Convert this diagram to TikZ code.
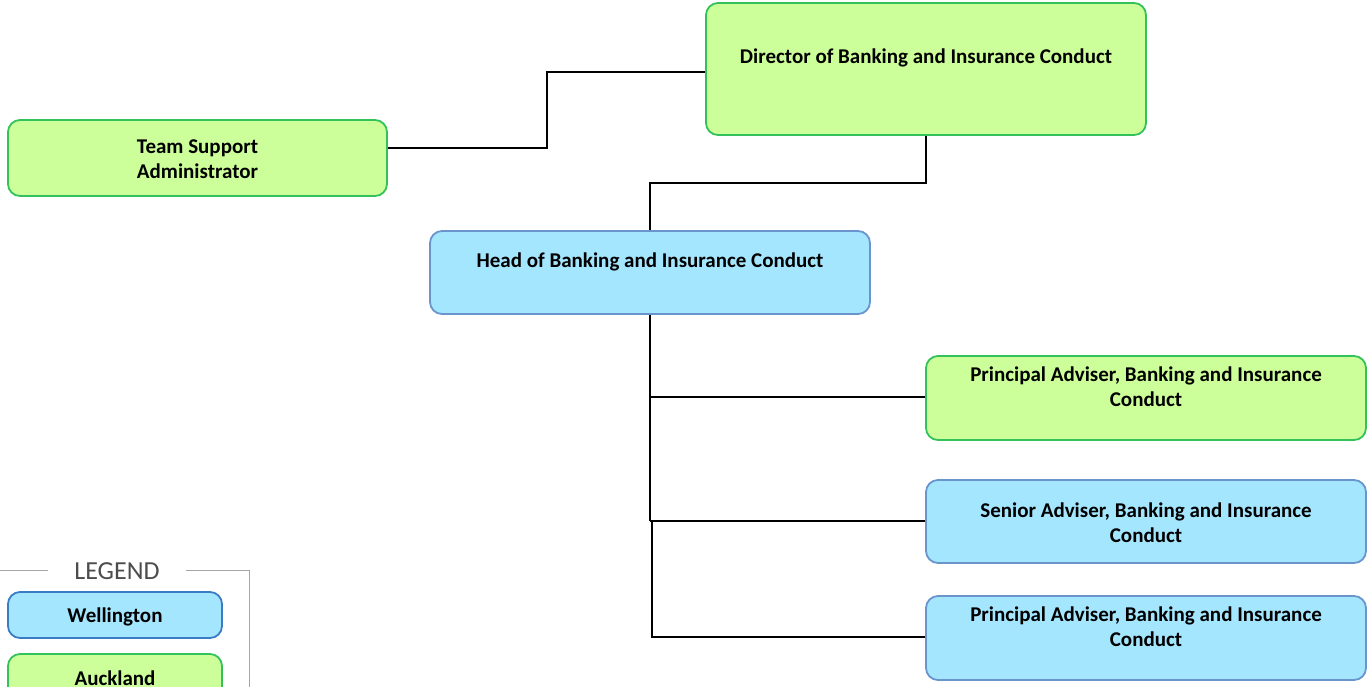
\documentclass[tikz,border=0pt]{standalone}
\usepackage{fontspec}
\setmainfont{Carlito}
\definecolor{aklfill}{HTML}{CCFF99}
\definecolor{akldraw}{HTML}{33C25A}
\definecolor{wlgfill}{HTML}{A5E6FF}
\definecolor{wlgdraw}{HTML}{6A94CC}
\definecolor{keydraw}{HTML}{3A7CC4}
\definecolor{legline}{HTML}{A6A6A6}
\begin{document}
\begin{tikzpicture}[x=1pt,y=-1pt,
        akl/.style={draw=akldraw, fill=aklfill, line width=1.8pt, rounded corners=12pt, minimum width=#1, inner sep=0pt},
        wlg/.style={draw=wlgdraw, fill=wlgfill, line width=1.8pt, rounded corners=12pt, minimum width=#1, inner sep=0pt},
        lbl/.style={font=\fontsize{21}{25.5}\bfseries\selectfont, align=center, inner sep=0pt},
        link/.style={draw=black, line width=1.2pt}]
        \useasboundingbox (0,0) rectangle (1368,686);
        % boxes
        \node[akl=440pt, minimum height=132pt] (dir) at (926,69) {};
        \node[lbl] (dirtxt) at (926,57.5) {Director of Banking and Insurance Conduct};
        \node[akl=379pt, minimum height=76pt] (tsa) at (197.5,158) {};
        \node[lbl] (tsatxt) at (197.5,159) {Team Support\\Administrator};
        \node[wlg=440pt, minimum height=83pt] (head) at (650,272.5) {};
        \node[lbl] (headtxt) at (650,261.5) {Head of Banking and Insurance Conduct};
        \node[akl=440pt, minimum height=84pt] (pa1) at (1146,398) {};
        \node[lbl] (pa1txt) at (1146,386.5) {Principal Adviser, Banking and Insurance\\Conduct};
        \node[wlg=440pt, minimum height=83pt] (sa) at (1146,521.5) {};
        \node[lbl] (satxt) at (1146,522.5) {Senior Adviser, Banking and Insurance\\Conduct};
        \node[wlg=440pt, minimum height=84pt] (pa2) at (1146,638) {};
        \node[lbl] (pa2txt) at (1146,626.5) {Principal Adviser, Banking and Insurance\\Conduct};
        % connectors
        \draw[link] (dir.west |- 0,72) -| (547,110) |- (tsa.east |- 0,148);
        \draw[link] (dir.south) |- (650,183) -- (head.north);
        \draw[link] (head.south) -- (650,521);
        \coordinate (j1) at (650,397);
        \coordinate (j2) at (650,521);
        \coordinate (j3) at (652,521);
        \draw[link] (j1) -- (pa1.west |- j1);
        \draw[link] (j2) -- (sa.west |- j2);
        \draw[link] (j3) |- (pa2.west |- 0,637);
        % legend
        \draw[legline, line width=1pt] (0,570) -- (48,570) (186,570) -- (249,570) -- (249,700);
        \node[font=\fontsize{26}{30}\selectfont, text=black!70, inner sep=0pt] (legtxt) at (117,571) {LEGEND};
        \node[wlg=214pt, minimum height=46pt, draw=keydraw] (wlgkey) at (115,615) {};
        \node[lbl] (wlgtxt) at (115,617) {Wellington};
        \node[akl=214pt, minimum height=46pt] (aklkey) at (115,677) {};
        \node[lbl] (akltxt) at (115,678) {Auckland};
\end{tikzpicture}
\end{document}
